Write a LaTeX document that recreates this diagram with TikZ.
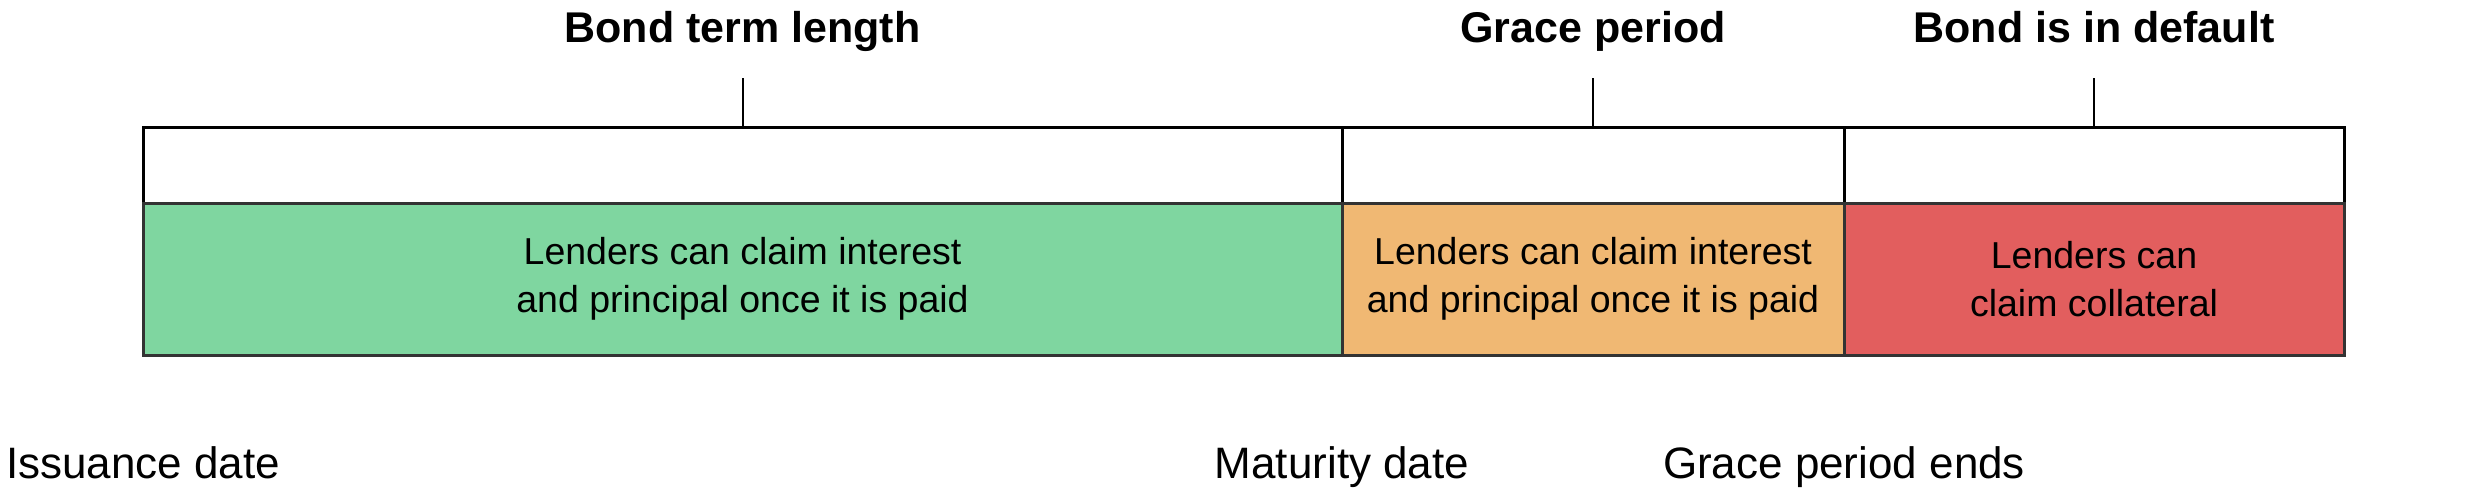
\documentclass[tikz,border=0pt]{standalone}
\usepackage{fontspec}
\setmainfont{Liberation Sans}
\usetikzlibrary{positioning}
\definecolor{termgreen}{HTML}{7FD6A0}
\definecolor{graceorange}{HTML}{F0B873}
\definecolor{defaultred}{HTML}{E25E5E}
\definecolor{frameline}{HTML}{333333}
\tikzset{
  headcell/.style={
    draw=black,
    fill=white,
    line width=3pt,
    minimum height=75pt,
    inner sep=0pt,
    outer sep=0pt
  },
  bodycell/.style={
    draw=frameline,
    line width=3pt,
    minimum height=152pt,
    inner sep=0pt,
    outer sep=0pt,
    align=center,
    text=black,
    font=\fontsize{37.5}{47.7}\selectfont
  },
  phasetitle/.style={font=\fontsize{43}{50}\selectfont\bfseries, inner sep=0pt, text height=31pt, text depth=9pt},
  datelabel/.style={font=\fontsize{44}{52}\selectfont, inner sep=0pt},
  tickline/.style={draw=black, line width=2pt}
}

\begin{document}
\begin{tikzpicture}[x=1pt, y=-1pt]
  \useasboundingbox (0,0) rectangle (2488,492);

  % header row
  \node[headcell, minimum width=1199pt, anchor=north west] (termhead) at (143,128) {};
  \node[headcell, minimum width=502pt, right=0pt of termhead] (gracehead) {};
  \node[headcell, minimum width=500pt, right=0pt of gracehead] (defaulthead) {};

  % coloured row
  \node[bodycell, fill=termgreen, minimum width=1199pt, below=0pt of termhead] (termbody) {Lenders can claim interest\\and principal once it is paid};
  \node[bodycell, fill=graceorange, minimum width=502pt, below=0pt of gracehead] (gracebody) {Lenders can claim interest\\and principal once it is paid};
  \node[bodycell, fill=defaultred, minimum width=500pt, below=0pt of defaulthead] (defaultbody) {Lenders can\\claim collateral};

  % phase titles
  \node[phasetitle, anchor=base] (termtitle) at (termhead.north |- 0,43) {Bond term length};
  \node[phasetitle, anchor=base] (gracetitle) at (gracehead.north |- 0,43) {Grace period};
  \node[phasetitle, anchor=base] (defaulttitle) at (defaulthead.north |- 0,43) {Bond is in default};

  \draw[tickline, shorten >=26pt] (termhead.north) -- (termtitle.south);
  \draw[tickline, shorten >=26pt] (gracehead.north) -- (gracetitle.south);
  \draw[tickline, shorten >=26pt] (defaulthead.north) -- (defaulttitle.south);

  % dates
  \node[datelabel, anchor=base] (issuance) at (termbody.south west |- 0,478) {Issuance date};
  \node[datelabel, anchor=base] (maturity) at (gracebody.south west |- 0,478) {Maturity date};
  \node[datelabel, anchor=base] (graceend) at (defaultbody.south west |- 0,478) {Grace period ends};
\end{tikzpicture}
\end{document}
